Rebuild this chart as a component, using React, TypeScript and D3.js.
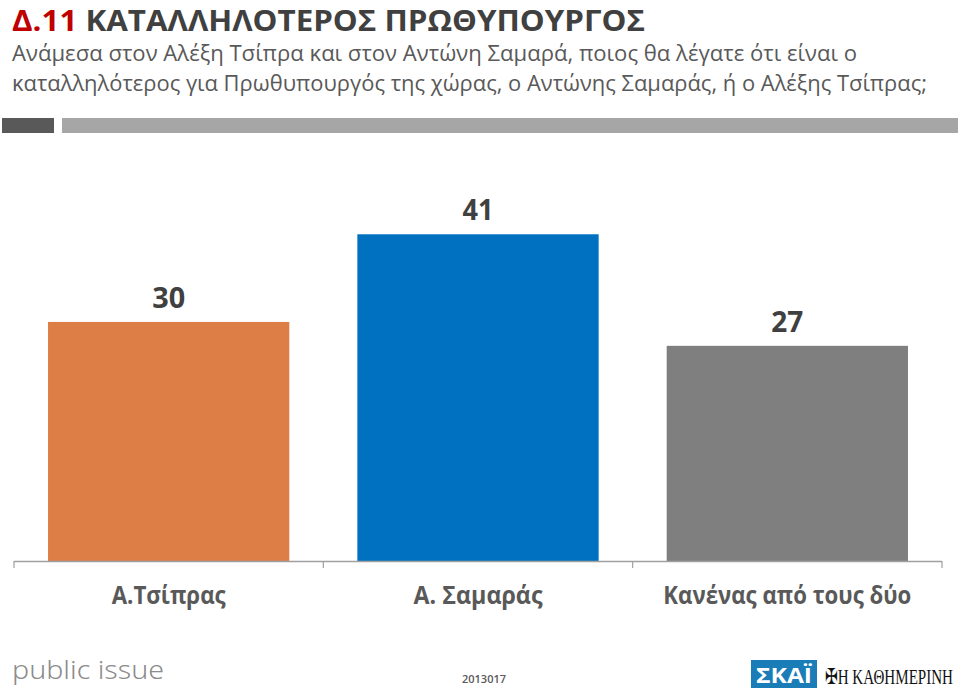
import React from "react";
import * as d3 from "d3";

const categories = ["Α.Τσίπρας", "Α. Σαμαράς", "Κανένας από τους δύο"];
const values = [30, 41, 27];
const barColors = ["#DD7E47", "#0070C0", "#7F7F7F"];
const titleCode = "Δ.11";
const titleText = "ΚΑΤΑΛΛΗΛΟΤΕΡΟΣ ΠΡΩΘΥΠΟΥΡΓΟΣ";
const subtitleLines = [
  "Ανάμεσα στον Αλέξη Τσίπρα και στον Αντώνη Σαμαρά, ποιος θα λέγατε ότι είναι ο",
  "καταλληλότερος για Πρωθυπουργός της χώρας, ο Αντώνης Σαμαράς, ή ο Αλέξης Τσίπρας;",
];
const footerCode = "2013017";

const W = 960;
const H = 690;
const FONT = "'Open Sans', 'Noto Sans', sans-serif";

export default function App() {
  const x = d3
    .scaleBand<string>()
    .domain(categories)
    .range([14, 942])
    .paddingInner(0.22)
    .paddingOuter(0.11);
  const y = d3.scaleLinear().domain([0, 45]).range([561, 202.4]);
  const step = x.step();
  const tickXs = categories.map((c) => (x(c) as number) - step * 0.11);
  tickXs.push(942);
  const labelWidths = [114, 129, 248];
  const valueWidths = [33, 31, 32];

  return (
    <svg
      width={W}
      height={H}
      style={{ position: "absolute", left: 0, top: 0, background: "#fff" }}
      fontFamily={FONT}
    >
      <rect x={0} y={0} width={W} height={H} fill="#fff" />
      {/* Title */}
      <text x={12} y={31} fontSize={29} fontWeight={700} textLength={633} lengthAdjust="spacingAndGlyphs">
        <tspan fill="#C00000">{titleCode}</tspan>
        <tspan fill="#404040">{" " + titleText}</tspan>
      </text>
      {subtitleLines.map((s, i) => (
        <text
          key={i}
          x={12}
          y={61 + i * 30}
          fontSize={21}
          fill="#595959"
          textLength={i === 0 ? 845 : 915}
          lengthAdjust="spacingAndGlyphs"
        >
          {s}
        </text>
      ))}
      {/* Separator bars */}
      <rect x={2} y={118} width={52} height={15} fill="#595959" />
      <rect x={62} y={118} width={896} height={15} fill="#A6A6A6" />

      {/* Bars */}
      {categories.map((c, i) => (
        <rect
          key={c}
          x={x(c)}
          y={y(values[i])}
          width={x.bandwidth()}
          height={y(0) - y(values[i])}
          fill={barColors[i]}
        />
      ))}
      {/* Value labels */}
      {categories.map((c, i) => (
        <text
          key={"v" + c}
          x={(x(c) as number) + x.bandwidth() / 2}
          y={y(values[i]) - 14}
          textAnchor="middle"
          fontSize={28}
          fontWeight={700}
          fill="#404040"
          textLength={valueWidths[i]}
          lengthAdjust="spacingAndGlyphs"
        >
          {values[i]}
        </text>
      ))}
      {/* Axis */}
      <line x1={14} x2={942} y1={y(0) + 0.5} y2={y(0) + 0.5} stroke="#A0A0A0" strokeWidth={1.5} />
      {tickXs.map((t, i) => (
        <line key={i} x1={t} x2={t} y1={y(0)} y2={y(0) + 7} stroke="#A0A0A0" strokeWidth={1.2} />
      ))}
      {categories.map((c, i) => (
        <text
          key={"l" + c}
          x={(x(c) as number) + x.bandwidth() / 2}
          y={604}
          textAnchor="middle"
          fontSize={25}
          fontWeight={700}
          fill="#595959"
          textLength={labelWidths[i]}
          lengthAdjust="spacingAndGlyphs"
        >
          {c}
        </text>
      ))}

      {/* Footer */}
      <text x={12} y={679} fontSize={26} fill="#8C8C8C" fontWeight={300} fontFamily="'Noto Sans', 'DejaVu Sans', sans-serif" textLength={152} lengthAdjust="spacingAndGlyphs">
        public issue
      </text>
      <text x={462} y={683} fontSize={11} fill="#595959" fontWeight={600}>
        {footerCode}
      </text>
      <rect x={751} y={660} width={66} height={28} fill="#1A7DB8" />
      <text x={784} y={683} textAnchor="middle" fontSize={22} fontWeight={700} fill="#fff" textLength={56} lengthAdjust="spacingAndGlyphs">
        ΣΚΑΪ
      </text>
      <g transform="translate(825,684) scale(1,1.35)">
        <text x={0} y={0} fontSize={16} fill="#111" fontFamily="'Liberation Serif', 'DejaVu Serif', serif" textLength={128} lengthAdjust="spacingAndGlyphs">
          ✠Η ΚΑΘΗΜΕΡΙΝΗ
        </text>
      </g>
    </svg>
  );
}
